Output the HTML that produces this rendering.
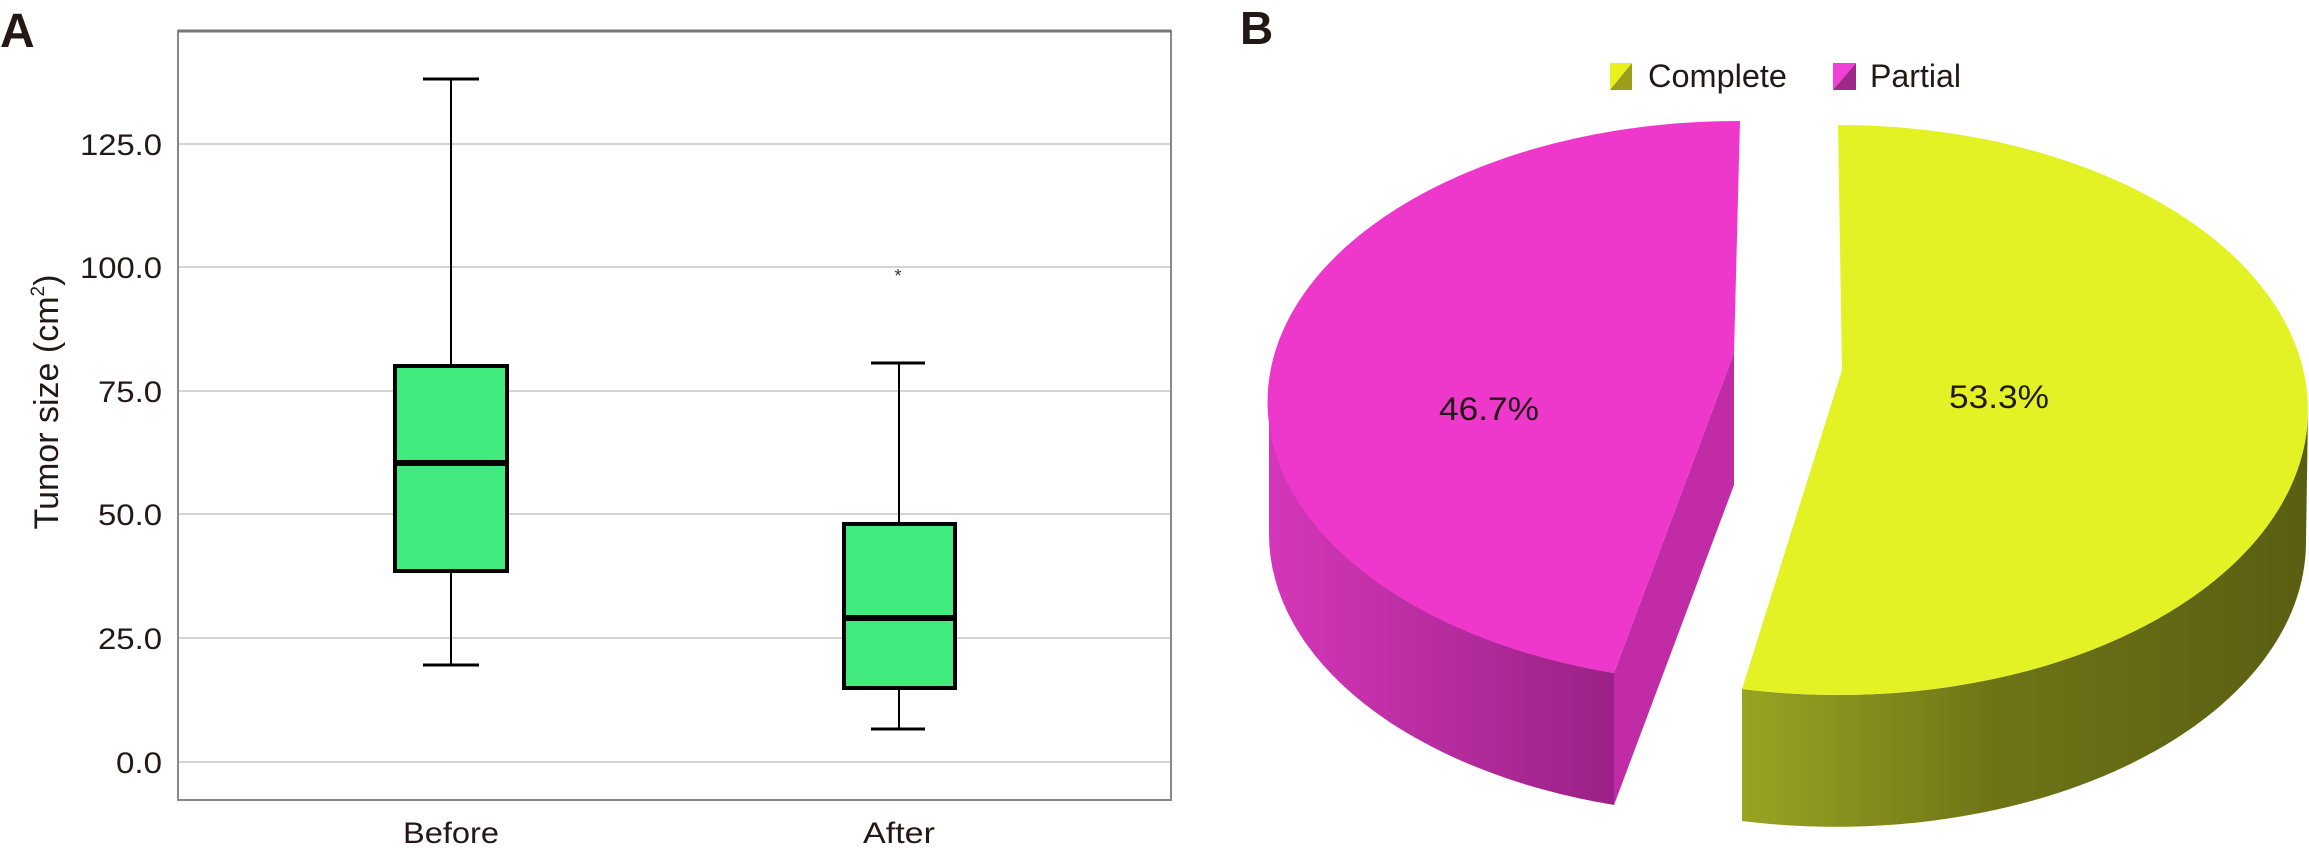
<!DOCTYPE html>
<html><head><meta charset="utf-8"><style>body{margin:0;background:#fff}svg{display:block}</style></head>
<body>
<svg width="2309" height="850" viewBox="0 0 2309 850" xmlns="http://www.w3.org/2000/svg" font-family="Liberation Sans, sans-serif">
<defs>
<linearGradient id="ys" x1="0" x2="1" y1="0" y2="0"><stop offset="0" stop-color="#99a422"/><stop offset="0.45" stop-color="#6e7416"/><stop offset="1" stop-color="#5a5e12"/></linearGradient>
<linearGradient id="ms" x1="0" x2="1" y1="0" y2="0"><stop offset="0" stop-color="#d437b9"/><stop offset="1" stop-color="#9a2185"/></linearGradient>
</defs>
<text x="0" y="47" font-size="48" font-weight="bold" fill="#231815">A</text>
<text x="1240" y="44" font-size="46" font-weight="bold" fill="#231815">B</text>
<g stroke="#d4d4d4" stroke-width="2">
<line x1="178" x2="1171" y1="144" y2="144"/><line x1="178" x2="1171" y1="267" y2="267"/>
<line x1="178" x2="1171" y1="391" y2="391"/><line x1="178" x2="1171" y1="514" y2="514"/>
<line x1="178" x2="1171" y1="638" y2="638"/><line x1="178" x2="1171" y1="762" y2="762"/>
</g>
<rect x="178" y="31" width="993" height="769" fill="none" stroke="#888" stroke-width="2"/>
<line x1="178" x2="1171" y1="31" y2="31" stroke="#777" stroke-width="3"/>
<g font-size="30" fill="#231815" text-anchor="end">
<text x="162" y="155" textLength="82" lengthAdjust="spacingAndGlyphs">125.0</text>
<text x="162" y="278" textLength="82" lengthAdjust="spacingAndGlyphs">100.0</text>
<text x="162" y="402" textLength="64" lengthAdjust="spacingAndGlyphs">75.0</text>
<text x="162" y="525" textLength="64" lengthAdjust="spacingAndGlyphs">50.0</text>
<text x="162" y="649" textLength="64" lengthAdjust="spacingAndGlyphs">25.0</text>
<text x="162" y="773" textLength="46" lengthAdjust="spacingAndGlyphs">0.0</text>
</g>
<text transform="translate(58,402) rotate(-90)" font-size="34" fill="#231815" text-anchor="middle">Tumor size (cm<tspan font-size="19" dy="-14">2</tspan><tspan dy="14">)</tspan></text>
<g font-size="30" fill="#231815" text-anchor="middle">
<text x="451" y="843" textLength="96" lengthAdjust="spacingAndGlyphs">Before</text>
<text x="899" y="843" textLength="72" lengthAdjust="spacingAndGlyphs">After</text>
</g>
<g stroke="#000">
<line x1="451" x2="451" y1="79" y2="366" stroke-width="2"/>
<line x1="451" x2="451" y1="571" y2="665" stroke-width="2"/>
<line x1="423" x2="479" y1="79" y2="79" stroke-width="3"/>
<line x1="423" x2="479" y1="665" y2="665" stroke-width="3"/>
<rect x="395" y="366" width="112" height="205" fill="#40ea7d" stroke-width="4"/>
<line x1="395" x2="507" y1="463" y2="463" stroke-width="6"/>
<line x1="899" x2="899" y1="363" y2="524" stroke-width="2"/>
<line x1="899" x2="899" y1="688" y2="729" stroke-width="2"/>
<line x1="871" x2="925" y1="363" y2="363" stroke-width="3"/>
<line x1="871" x2="925" y1="729" y2="729" stroke-width="3"/>
<rect x="844" y="524" width="111" height="164" fill="#40ea7d" stroke-width="4"/>
<line x1="844" x2="955" y1="618" y2="618" stroke-width="6"/>
</g>
<text x="898" y="282" font-size="18" text-anchor="middle" fill="#333">*</text>
<polygon points="1610,63 1632,63 1610,90" fill="#e8f020"/><polygon points="1632,63 1632,90 1610,90" fill="#9a9e1a"/>
<polygon points="1833,63 1856,63 1833,90" fill="#f040d8"/><polygon points="1856,63 1856,90 1833,90" fill="#9e2888"/>
<text x="1648" y="87" font-size="32" fill="#231815" textLength="139" lengthAdjust="spacingAndGlyphs">Complete</text>
<text x="1870" y="87" font-size="32" fill="#231815" textLength="91" lengthAdjust="spacingAndGlyphs">Partial</text>
<!-- magenta slice -->
<path d="M1269,402 L1269,534 A471,281 0 0 0 1614,805 L1614,673 A471,281 0 0 1 1269,402 Z" fill="url(#ms)"/>
<path d="M1734,353 L1734,485 L1614,805 L1614,673 Z" fill="#c12ba6"/>
<path d="M1740,121 A471,281 0 0 0 1614,673 L1734,353 Z" fill="#ee38cc"/>
<!-- yellow slice -->
<path d="M2308,410 L2306,542 A470,285 0 0 1 1742,821 L1742,689 A470,285 0 0 0 2308,410 Z" fill="url(#ys)"/>
<path d="M1838,125 A470,285 0 1 1 1742,689 L1842,370 Z" fill="#e3f224"/>
<g font-size="32" fill="#231815" text-anchor="middle">
<text x="1489" y="420" textLength="100" lengthAdjust="spacingAndGlyphs">46.7%</text>
<text x="1999" y="408" textLength="100" lengthAdjust="spacingAndGlyphs">53.3%</text>
</g>
</svg>
</body></html>
